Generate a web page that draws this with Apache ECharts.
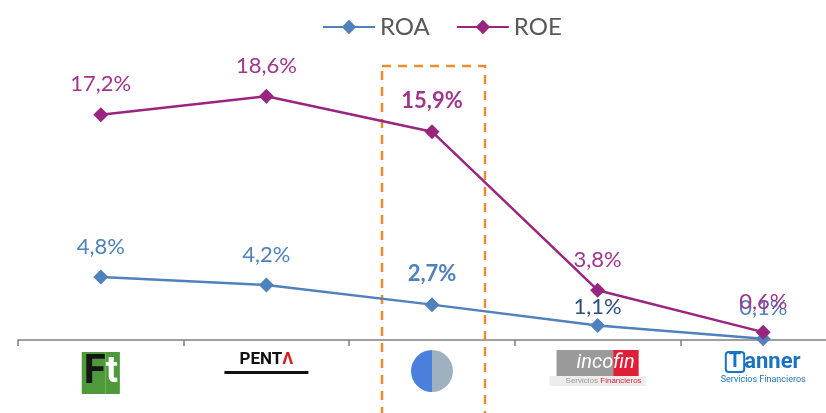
<!DOCTYPE html>
<html>
<head>
<meta charset="utf-8">
<script src="https://cdn.jsdelivr.net/npm/echarts@6/dist/echarts.min.js"></script>
<style>
 html, body { margin: 0; padding: 0; background: #fff; }
 #chart { width: 826px; height: 413px; }
</style>
</head>
<body>
<div id="chart"></div>
<script>
// companies (shown as logos on the axis)
const categories = ['ft', 'penta', 'circle', 'incofin', 'tanner']
const roa = [4.8, 4.2, 2.7, 1.1, 0.1]
const roe = [17.2, 18.6, 15.9, 3.8, 0.6]
const highlight = 2

const BLUE = '#4F81BD'
const PURPLE = '#9A2580'
const FONT = 'Lato, "Open Sans", sans-serif'

const fmt = v => v.toFixed(1).replace('.', ',') + '%'

function points(values) {
 return values.map((v, i) => {
 const item = { value: v }
 if (i === highlight) item.label = { fontWeight: 'bold' }
 return item
 })
}

const roaData = points(roa)
roaData[3].label = { color: '#2B4E7E', distance: 0 }
const roeData = points(roe)

const logoRich = {
 ftF: { backgroundColor: '#4E9A3A', color: '#151515', fontSize: 40, fontWeight: 'bold', fontFamily: 'Roboto', height: 42, lineHeight: 42, padding: [0, 0, 0, 2] },
 ftT: { backgroundColor: '#4E9A3A', color: '#fff', fontSize: 36, fontWeight: 'bold', fontFamily: 'Roboto', height: 42, lineHeight: 46, padding: [0, 2, 0, 0] },
 penta: { color: '#111', fontSize: 17, fontWeight: 'bold', fontFamily: 'Roboto', lineHeight: 20 },
 pentaA: { color: '#D42020', fontSize: 17, fontWeight: 'bold', fontFamily: 'Roboto', lineHeight: 20 },
 bar: { backgroundColor: '#111', width: 84, height: 3, lineHeight: 5 },
 cl: { backgroundColor: '#4A7FDC', width: 21, height: 42, borderRadius: [21, 0, 0, 21] },
 cr: { backgroundColor: '#9FB0C0', width: 21, height: 42, borderRadius: [0, 21, 21, 0] },
 inco: { backgroundColor: '#9A9A9A', color: '#fff', fontSize: 20, fontStyle: 'italic', fontFamily: 'Roboto', height: 26, padding: [0, 0, 0, 20] },
 fin: { backgroundColor: '#E01E37', color: '#fff', fontSize: 20, fontStyle: 'italic', fontFamily: 'Roboto', height: 26, padding: [0, 4, 0, 0] },
 serv: { backgroundColor: '#EDEDED', color: '#999', fontSize: 8, height: 10, padding: [0, 0, 0, 16] },
 finan: { backgroundColor: '#EDEDED', color: '#E01E37', fontSize: 8, height: 10, padding: [0, 4, 0, 0] },
 tT: { color: '#1A72C2', fontSize: 20, fontWeight: 'bold', fontFamily: 'Roboto', borderColor: '#1A72C2', borderWidth: 2, borderRadius: 3, padding: [0, 3], lineHeight: 22 },
 tanner: { color: '#1A72C2', fontSize: 22, fontWeight: 'bold', fontFamily: 'Roboto', lineHeight: 24 },
 tServ: { color: '#1A72C2', fontSize: 9, fontFamily: 'Roboto', lineHeight: 12 }
}

const logoText = {
 ft: '{ftF|F}{ftT|t}',
 penta: '{penta|PENT}{pentaA|Λ}\n{bar|}',
 circle: '{cl|}{cr|}',
 incofin: '{inco|inco}{fin|fin}\n{serv|Servicios }{finan|Financieros}',
 tanner: '{tT|T}{tanner|anner}\n{tServ|Servicios Financieros}'
}

const chart = echarts.init(document.getElementById('chart'))

chart.setOption({
 animation: false,
 backgroundColor: '#fff',
 legend: {
 top: 10,
 left: 317,
 itemWidth: 52,
 itemHeight: 18,
 itemGap: 26,
 textStyle: { color: '#595959', fontSize: 24, fontFamily: FONT },
 data: ['ROA', 'ROE']
 },
 grid: { left: 18, right: -20, top: 78, bottom: 73, outerBoundsMode: 'none' },
 xAxis: {
 type: 'category',
 data: categories,
 axisLine: { lineStyle: { color: '#808080', width: 1.5 } },
 axisTick: { show: true, length: 6, lineStyle: { color: '#808080', width: 1.5 } },
 axisLabel: {
 margin: 10,
 interval: 0,
 formatter: v => logoText[v],
 rich: logoRich
 }
 },
 yAxis: {
 type: 'value',
 min: 0,
 max: 20,
 show: false,
 splitLine: { show: false }
 },
 series: [
 {
 name: 'ROA',
 type: 'line',
 data: roaData,
 symbol: 'diamond',
 symbolSize: 15,
 color: BLUE,
 lineStyle: { width: 2.5, color: BLUE },
 itemStyle: { color: BLUE },
 label: {
 show: true,
 position: 'top',
 distance: 12,
 color: BLUE,
 fontSize: 22,
 fontFamily: FONT,
 formatter: p => fmt(p.value)
 },
 z: 3
 },
 {
 name: 'ROE',
 type: 'line',
 data: roeData,
 symbol: 'diamond',
 symbolSize: 15,
 color: PURPLE,
 lineStyle: { width: 2.5, color: PURPLE },
 itemStyle: { color: PURPLE },
 label: {
 show: true,
 position: 'top',
 distance: 12,
 color: '#A0368C',
 fontSize: 22,
 fontFamily: FONT,
 formatter: p => fmt(p.value)
 },
 z: 4
 }
 ]
})

// dashed box around the highlighted company
const cx = chart.convertToPixel({ xAxisIndex: 0 }, categories[highlight])
chart.setOption({
 graphic: [{
 type: 'rect',
 shape: { x: cx - 50, y: 66, width: 103, height: 400 },
 style: { fill: 'none', stroke: '#F08A30', lineWidth: 2.5, lineDash: [9, 7] },
 z: 1
 }]
})
</script>
</body>
</html>
